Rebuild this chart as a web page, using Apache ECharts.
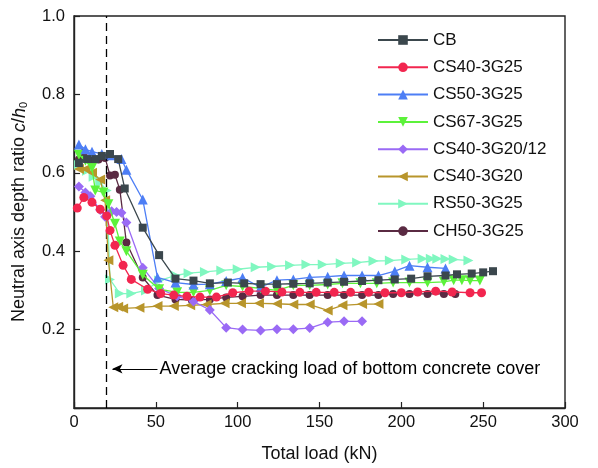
<!DOCTYPE html>
<html>
<head>
<meta charset="utf-8">
<script src="https://cdn.jsdelivr.net/npm/echarts@6/dist/echarts.min.js"></script>
<style>
  html, body { margin: 0; padding: 0; background: #fff; }
  #chart { width: 598px; height: 468px; }
</style>
</head>
<body>
<div id="chart"></div>
<script>
// Neutral axis depth ratio versus total load, one series per beam specimen.
const seriesNames = ['CB', 'CS40-3G25', 'CS50-3G25', 'CS67-3G25', 'CS40-3G20/12', 'CS40-3G20', 'RS50-3G25', 'CH50-3G25'];

const cbData = [[3,0.625],[8,0.635],[13,0.635],[17,0.643],[22,0.648],[27,0.635],[31,0.56],[42,0.46],[52,0.39],[62,0.33],[73,0.325],[83,0.318],[94,0.32],[104,0.318],[114,0.316],[124,0.316],[134,0.317],[144,0.318],[155,0.32],[165,0.322],[176,0.324],[186,0.326],[196,0.328],[206,0.33],[216,0.336],[227,0.338],[234,0.341],[243,0.343],[250,0.346],[256,0.349]];
const cs40g25Data = [[2,0.51],[6,0.537],[11,0.525],[16,0.507],[20,0.49],[22,0.453],[25,0.415],[30,0.364],[35,0.328],[45,0.303],[53,0.292],[61,0.288],[69,0.285],[77,0.283],[87,0.283],[97,0.294],[107,0.298],[117,0.298],[127,0.296],[138,0.295],[148,0.295],[159,0.295],[169,0.295],[180,0.295],[190,0.294],[200,0.294],[210,0.296],[221,0.298],[231,0.296],[242,0.294],[249,0.294]];
const cs50g25Data = [[3,0.672],[7,0.66],[11,0.654],[17,0.648],[23,0.645],[29,0.635],[32,0.608],[42,0.532],[51,0.333],[62,0.32],[73,0.315],[83,0.316],[93,0.324],[103,0.332],[114,0.308],[124,0.326],[134,0.328],[144,0.333],[155,0.335],[165,0.338],[176,0.338],[186,0.338],[196,0.349],[205,0.363],[216,0.359],[227,0.356]];
const cs67g25Data = [[3,0.646],[7,0.631],[11,0.612],[13,0.555],[18,0.55],[21,0.52],[25,0.47],[28,0.425],[32,0.4],[42,0.34],[52,0.303],[63,0.295],[73,0.295],[83,0.3],[93,0.313],[103,0.31],[114,0.305],[124,0.3],[134,0.313],[144,0.313],[155,0.315],[164,0.318],[175,0.318],[185,0.318],[195,0.32],[205,0.32],[216,0.32],[226,0.322],[232,0.326],[237,0.326],[242,0.325],[248,0.325]];
const cs40g2012Data = [[3,0.565],[7,0.55],[10,0.54],[16,0.505],[19,0.488],[23,0.502],[26,0.5],[29,0.498],[32,0.473],[42,0.358],[52,0.305],[63,0.285],[73,0.272],[83,0.25],[93,0.205],[103,0.2],[114,0.198],[124,0.201],[134,0.201],[144,0.204],[155,0.219],[165,0.221],[176,0.221]];
const cs40g20Data = [[3,0.61],[7,0.61],[11,0.6],[16,0.583],[19,0.53],[21,0.377],[24,0.257],[27,0.258],[30,0.254],[40,0.256],[51,0.26],[61,0.26],[71,0.262],[81,0.264],[92,0.267],[102,0.267],[113,0.267],[124,0.266],[134,0.264],[144,0.264],[155,0.249],[164,0.262],[176,0.265],[186,0.265]];
const rs50g25Data = [[3,0.62],[8,0.605],[12,0.59],[16,0.575],[20,0.555],[22,0.328],[28,0.292],[35,0.292],[44,0.3],[52,0.325],[62,0.338],[70,0.344],[80,0.347],[90,0.351],[100,0.354],[111,0.359],[121,0.361],[132,0.364],[142,0.366],[152,0.366],[163,0.369],[173,0.371],[183,0.375],[193,0.376],[203,0.379],[213,0.381],[218,0.381],[222,0.381],[227,0.38],[232,0.379],[241,0.376]];
const ch50g25Data = [[3,0.634],[6,0.651],[11,0.631],[15,0.634],[19,0.638],[22,0.593],[25,0.595],[28,0.557],[32,0.422],[42,0.333],[51,0.288],[62,0.277],[72,0.275],[83,0.277],[93,0.282],[103,0.285],[114,0.288],[124,0.288],[134,0.288],[144,0.288],[155,0.288],[165,0.288],[176,0.288],[186,0.288],[195,0.291],[205,0.291],[216,0.291],[226,0.291],[233,0.291]];

const xTicks = [0, 50, 100, 150, 200, 250, 300];
const yTicks = [0, 0.2, 0.4, 0.6, 0.8, 1.0];
const crackingLoad = 20;      // kN, average cracking load of the bottom cover
const noteLevel = 0.1;        // ratio level of the annotation arrow
const noteFrom = 51;          // kN, tail of the annotation arrow
const noteText = 'Average cracking load of bottom concrete cover';

const styles = [
  { color: '#3b474d', symbol: 'rect', rotate: 0, size: 8 },
  { color: '#f2264f', symbol: 'circle', rotate: 0, size: 9 },
  { color: '#4d7ef5', symbol: 'triangle', rotate: 0, size: 10 },
  { color: '#5cf23a', symbol: 'triangle', rotate: 180, size: 10 },
  { color: '#9a6af5', symbol: 'diamond', rotate: 0, size: 10 },
  { color: '#b8952b', symbol: 'triangle', rotate: 90, size: 10 },
  { color: '#80f7c0', symbol: 'triangle', rotate: -90, size: 10 },
  { color: '#5a2a42', symbol: 'circle', rotate: 0, size: 8 }
];
const allData = [cbData, cs40g25Data, cs50g25Data, cs67g25Data, cs40g2012Data, cs40g20Data, rs50g25Data, ch50g25Data];

const FONT = 'Liberation Sans, Arial, sans-serif';

const series = seriesNames.map((name, i) => ({
  name: name,
  type: 'line',
  data: allData[i],
  symbol: styles[i].symbol,
  symbolSize: styles[i].size,
  symbolRotate: styles[i].rotate,
  showAllSymbol: true,
  z: 10 - i,
  lineStyle: { color: styles[i].color, width: 1.3 },
  itemStyle: { color: styles[i].color },
  emphasis: { disabled: true },
  animation: false
}));

// Dashed cracking-load line and the annotation arrow with its note
series.push({
  name: 'annotation',
  type: 'line',
  data: [],
  silent: true,
  animation: false,
  markLine: {
    silent: true,
    animation: false,
    symbol: 'none',
    data: [
      [
        { coord: [crackingLoad, yTicks[0]], symbol: 'none', lineStyle: { type: [8, 5], color: '#000', width: 1.3 }, label: { show: false } },
        { coord: [crackingLoad, yTicks[yTicks.length - 1]], symbol: 'none' }
      ],
      [
        { coord: [noteFrom, noteLevel], symbol: 'none', lineStyle: { type: 'solid', color: '#000', width: 1 },
          label: { show: true, position: 'start', formatter: noteText, color: '#000', fontSize: 18, fontFamily: FONT, distance: 2, padding: [3, 0, 0, 0] } },
        { coord: [crackingLoad + 3.5, noteLevel], symbol: 'arrow', symbolSize: [7, 10] }
      ]
    ]
  }
});

const chart = echarts.init(document.getElementById('chart'), null, { renderer: 'canvas' });
chart.setOption({
  backgroundColor: '#fff',
  animation: false,
  textStyle: { fontFamily: FONT },
  grid: { left: 74, right: 33, top: 16, bottom: 57, show: true, borderColor: '#222', borderWidth: 1.4, backgroundColor: 'transparent' },
  legend: {
    data: seriesNames,
    orient: 'vertical',
    left: 372,
    top: 26,
    itemWidth: 50,
    itemHeight: 12,
    itemGap: 9.3,
    textStyle: { fontSize: 17, color: '#111', fontFamily: FONT, lineHeight: 18, padding: [0, 0, 0, 0] },
    selectedMode: false
  },
  xAxis: {
    type: 'value',
    min: xTicks[0],
    max: xTicks[xTicks.length - 1],
    interval: xTicks[1] - xTicks[0],
    name: 'Total load (kN)',
    nameLocation: 'middle',
    nameGap: 37,
    nameTextStyle: { fontSize: 18, color: '#111', fontFamily: FONT },
    axisLine: { lineStyle: { color: '#222', width: 1.4 } },
    axisTick: { inside: true, length: 6, lineStyle: { color: '#222', width: 1.2 } },
    axisLabel: { fontSize: 16.5, color: '#111', margin: 6, fontFamily: FONT },
    splitLine: { show: false }
  },
  yAxis: {
    type: 'value',
    min: yTicks[0],
    max: yTicks[yTicks.length - 1],
    interval: yTicks[1] - yTicks[0],
    name: '{n|Neutral axis depth ratio }{i|c}{n|/}{i|h}{s|0}',
    nameLocation: 'middle',
    nameGap: 45,
    nameTextStyle: {
      color: '#111',
      rich: {
        n: { fontSize: 18, fontFamily: FONT, color: '#111' },
        i: { fontSize: 18, fontFamily: FONT, fontStyle: 'italic', color: '#111' },
        s: { fontSize: 11, fontFamily: FONT, color: '#111', verticalAlign: 'bottom', padding: [8, 0, 0, 0] }
      }
    },
    axisLine: { lineStyle: { color: '#222', width: 1.4 } },
    axisTick: { inside: true, length: 6, lineStyle: { color: '#222', width: 1.2 } },
    axisLabel: {
      fontSize: 16.5, color: '#111', margin: 9, fontFamily: FONT,
      formatter: v => (v === 0 ? '' : v.toFixed(1))
    },
    splitLine: { show: false }
  },
  series: series
});
</script>
</body>
</html>
